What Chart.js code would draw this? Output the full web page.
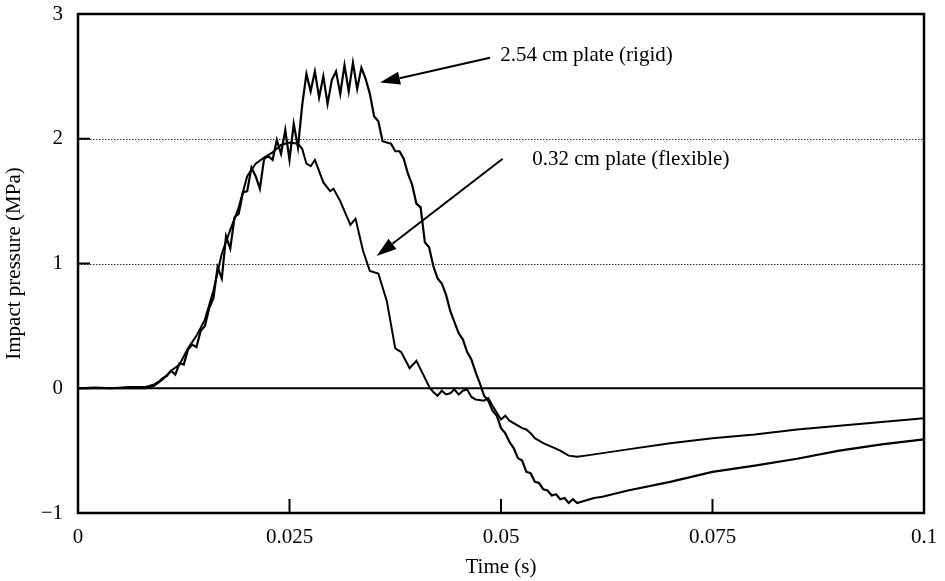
<!DOCTYPE html>
<html>
<head>
<meta charset="utf-8">
<script src="https://cdn.jsdelivr.net/npm/chart.js@4.4.1/dist/chart.umd.min.js"></script>
<style>
  html, body { margin: 0; padding: 0; background: #fff; }
  #wrap { width: 945px; height: 581px; }
</style>
</head>
<body>
<div id="wrap"><canvas id="c" width="945" height="581"></canvas></div>
<script>
// ---- Data (time in s, pressure in MPa) ----
const rigidTime = [0, 0.002, 0.004, 0.006, 0.008, 0.009, 0.0095, 0.010, 0.0105, 0.011, 0.0115, 0.012, 0.0125, 0.013, 0.0135, 0.014, 0.0145, 0.015, 0.0155, 0.016, 0.0165, 0.017, 0.0175, 0.018, 0.0185, 0.019, 0.0195, 0.020, 0.0205, 0.021, 0.0215, 0.022, 0.0225, 0.023, 0.0235, 0.024, 0.0245, 0.025, 0.0255, 0.026, 0.0265, 0.027, 0.0275, 0.028, 0.0285, 0.029, 0.0295, 0.030, 0.0305, 0.031, 0.0315, 0.032, 0.0325, 0.033, 0.0335, 0.034, 0.0345, 0.035, 0.0355, 0.036, 0.0365, 0.037, 0.0375, 0.038, 0.0385, 0.039, 0.0395, 0.040, 0.0405, 0.041, 0.0415, 0.042, 0.0425, 0.043, 0.0435, 0.044, 0.0445, 0.045, 0.0455, 0.046, 0.0465, 0.047, 0.0475, 0.048, 0.0485, 0.049, 0.0495, 0.050, 0.0505, 0.051, 0.0515, 0.052, 0.0525, 0.053, 0.0535, 0.054, 0.0545, 0.055, 0.0555, 0.056, 0.0565, 0.057, 0.0575, 0.058, 0.0585, 0.059, 0.060, 0.061, 0.062, 0.065, 0.070, 0.075, 0.080, 0.085, 0.090, 0.095, 0.100];
const rigidPressure = [0, 0.005, 0, 0.01, 0.01, 0.03, 0.05, 0.08, 0.10, 0.14, 0.11, 0.20, 0.19, 0.31, 0.35, 0.33, 0.46, 0.50, 0.64, 0.72, 0.97, 0.88, 1.22, 1.12, 1.37, 1.40, 1.57, 1.58, 1.77, 1.70, 1.60, 1.84, 1.86, 1.83, 1.99, 1.88, 2.07, 1.83, 2.12, 1.93, 2.27, 2.52, 2.38, 2.54, 2.33, 2.50, 2.28, 2.47, 2.54, 2.36, 2.59, 2.38, 2.61, 2.40, 2.57, 2.48, 2.36, 2.18, 2.14, 1.98, 1.97, 1.96, 1.90, 1.90, 1.84, 1.72, 1.63, 1.48, 1.45, 1.17, 1.13, 0.98, 0.88, 0.84, 0.75, 0.62, 0.53, 0.44, 0.39, 0.29, 0.23, 0.13, 0.04, -0.06, -0.10, -0.18, -0.22, -0.32, -0.36, -0.43, -0.48, -0.56, -0.58, -0.67, -0.68, -0.75, -0.76, -0.81, -0.82, -0.86, -0.85, -0.89, -0.88, -0.92, -0.89, -0.92, -0.90, -0.88, -0.87, -0.82, -0.75, -0.67, -0.62, -0.565, -0.50, -0.45, -0.41];

const flexTime = [0, 0.008, 0.009, 0.010, 0.011, 0.012, 0.013, 0.014, 0.015, 0.016, 0.017, 0.018, 0.019, 0.020, 0.021, 0.022, 0.023, 0.024, 0.025, 0.026, 0.0265, 0.027, 0.0275, 0.028, 0.0285, 0.029, 0.0298, 0.0302, 0.031, 0.0315, 0.0322, 0.0328, 0.0337, 0.0345, 0.0355, 0.0365, 0.0375, 0.0382, 0.0392, 0.040, 0.0416, 0.042, 0.0425, 0.043, 0.0435, 0.044, 0.0445, 0.045, 0.0455, 0.046, 0.0465, 0.047, 0.048, 0.0485, 0.049, 0.050, 0.0505, 0.051, 0.052, 0.0525, 0.053, 0.0535, 0.054, 0.055, 0.056, 0.057, 0.058, 0.059, 0.060, 0.061, 0.062, 0.065, 0.070, 0.075, 0.080, 0.085, 0.090, 0.095, 0.100];
const flexPressure = [0, 0, 0.02, 0.07, 0.14, 0.19, 0.32, 0.42, 0.55, 0.78, 1.08, 1.27, 1.45, 1.70, 1.80, 1.85, 1.89, 1.95, 1.97, 1.96, 1.92, 1.80, 1.78, 1.83, 1.74, 1.65, 1.58, 1.60, 1.50, 1.42, 1.31, 1.36, 1.10, 0.94, 0.92, 0.70, 0.32, 0.29, 0.16, 0.22, 0.00, -0.03, -0.06, -0.02, -0.05, -0.04, -0.01, -0.05, -0.02, -0.01, -0.07, -0.09, -0.10, -0.08, -0.14, -0.25, -0.22, -0.26, -0.30, -0.32, -0.33, -0.36, -0.40, -0.44, -0.47, -0.50, -0.54, -0.55, -0.54, -0.53, -0.52, -0.49, -0.44, -0.40, -0.37, -0.33, -0.30, -0.27, -0.24];

const xTickValues = [0, 0.025, 0.05, 0.075, 0.1];
const xTickLabels = ['0', '0.025', '0.05', '0.075', '0.1'];
const yTickValues = [-1, 0, 1, 2, 3];
const yTickLabels = ['\u22121', '0', '1', '2', '3'];
const dottedGridValues = [1, 2];
const solidGridValues = [0];

// Annotations: text, text anchor (data units), arrow start -> arrow tip (data units)
const notes = [
  { text: '2.54 cm plate (rigid)', tx: 0.0499, ty: 2.67, x0: 0.0487, y0: 2.65, x1: 0.0357, y1: 2.45 },
  { text: '0.32 cm plate (flexible)', tx: 0.0537, ty: 1.83, x0: 0.0502, y0: 1.84, x1: 0.0353, y1: 1.06 }
];

const FONT = '"Liberation Serif", "Times New Roman", serif';
const FS = 21;

function zip(xs, ys) { return xs.map((x, i) => ({ x: x, y: ys[i] })); }

const decor = {
  id: 'decor',
  beforeDatasetsDraw(chart) {
    const { ctx, chartArea: a, scales: { x, y } } = chart;
    ctx.save();
    ctx.strokeStyle = '#333';
    ctx.lineWidth = 1;
    ctx.setLineDash([1.5, 1.5]);
    dottedGridValues.forEach(v => {
      const py = Math.round(y.getPixelForValue(v)) + 0.5;
      ctx.beginPath(); ctx.moveTo(a.left, py); ctx.lineTo(a.right, py); ctx.stroke();
    });
    ctx.setLineDash([]);
    ctx.strokeStyle = '#000';
    ctx.lineWidth = 2;
    solidGridValues.forEach(v => {
      const py = y.getPixelForValue(v);
      ctx.beginPath(); ctx.moveTo(a.left, py); ctx.lineTo(a.right, py); ctx.stroke();
    });
    ctx.restore();
  },
  afterDatasetsDraw(chart) {
    const { ctx, chartArea: a, scales: { x, y } } = chart;
    ctx.save();
    ctx.strokeStyle = '#000';
    ctx.lineWidth = 2.5;
    ctx.strokeRect(a.left, a.top, a.right - a.left, a.bottom - a.top);
    ctx.lineWidth = 2;
    xTickValues.forEach(v => {
      const px = x.getPixelForValue(v);
      ctx.beginPath(); ctx.moveTo(px, a.bottom); ctx.lineTo(px, a.bottom - 14); ctx.stroke();
    });
    yTickValues.forEach(v => {
      const py = y.getPixelForValue(v);
      ctx.beginPath(); ctx.moveTo(a.left, py); ctx.lineTo(a.left + 12, py); ctx.stroke();
    });
    // annotations
    ctx.fillStyle = '#000';
    ctx.font = FS + 'px ' + FONT;
    ctx.textBaseline = 'middle';
    ctx.textAlign = 'left';
    notes.forEach(n => {
      ctx.fillText(n.text, x.getPixelForValue(n.tx), y.getPixelForValue(n.ty));
      const sx = x.getPixelForValue(n.x0), sy = y.getPixelForValue(n.y0);
      const ex = x.getPixelForValue(n.x1), ey = y.getPixelForValue(n.y1);
      const ang = Math.atan2(ey - sy, ex - sx);
      const hl = 20, hw = 6.5;
      const bx = ex - hl * Math.cos(ang), by = ey - hl * Math.sin(ang);
      ctx.lineWidth = 2;
      ctx.beginPath(); ctx.moveTo(sx, sy); ctx.lineTo(bx, by); ctx.stroke();
      ctx.beginPath();
      ctx.moveTo(ex, ey);
      ctx.lineTo(bx + hw * Math.sin(ang), by - hw * Math.cos(ang));
      ctx.lineTo(bx - hw * Math.sin(ang), by + hw * Math.cos(ang));
      ctx.closePath(); ctx.fill();
    });
    ctx.restore();
  }
};

new Chart(document.getElementById('c'), {
  type: 'scatter',
  data: {
    datasets: [
      { label: '2.54 cm plate (rigid)', data: zip(rigidTime, rigidPressure), showLine: true, borderColor: '#000', borderWidth: 2.2, pointRadius: 0, tension: 0 },
      { label: '0.32 cm plate (flexible)', data: zip(flexTime, flexPressure), showLine: true, borderColor: '#000', borderWidth: 2, pointRadius: 0, tension: 0 }
    ]
  },
  options: {
    responsive: false,
    animation: false,
    layout: { padding: { top: 14, right: 21, left: 0, bottom: 0 } },
    plugins: { legend: { display: false }, tooltip: { enabled: false } },
    scales: {
      x: {
        type: 'linear', min: 0, max: 0.1,
        afterFit(s) { s.height = 68; s.paddingLeft = 0; s.paddingRight = 0; },
        afterBuildTicks(s) { s.ticks = xTickValues.map(v => ({ value: v })); },
        grid: { display: false, drawTicks: false },
        border: { display: false },
        ticks: {
          padding: 12, color: '#000', font: { family: FONT, size: FS },
          maxRotation: 0, autoSkip: false,
          callback: (v) => { const i = xTickValues.findIndex(t => Math.abs(t - v) < 1e-9); return i >= 0 ? xTickLabels[i] : ''; }
        },
        title: { display: true, text: 'Time (s)', color: '#000', font: { family: FONT, size: FS }, padding: { top: 0, bottom: 1 } }
      },
      y: {
        type: 'linear', min: -1, max: 3,
        afterFit(s) { s.width = 78; s.paddingTop = 0; s.paddingBottom = 0; },
        afterBuildTicks(s) { s.ticks = yTickValues.map(v => ({ value: v })); },
        grid: { display: false, drawTicks: false },
        border: { display: false },
        ticks: {
          padding: 15, color: '#000', font: { family: FONT, size: FS },
          autoSkip: false,
          callback: (v) => { const i = yTickValues.indexOf(v); return i >= 0 ? yTickLabels[i] : ''; }
        },
        title: { display: true, text: 'Impact pressure (MPa)', color: '#000', font: { family: FONT, size: FS }, padding: { top: 2, bottom: 0 } }
      }
    }
  },
  plugins: [decor]
});
</script>
</body>
</html>
